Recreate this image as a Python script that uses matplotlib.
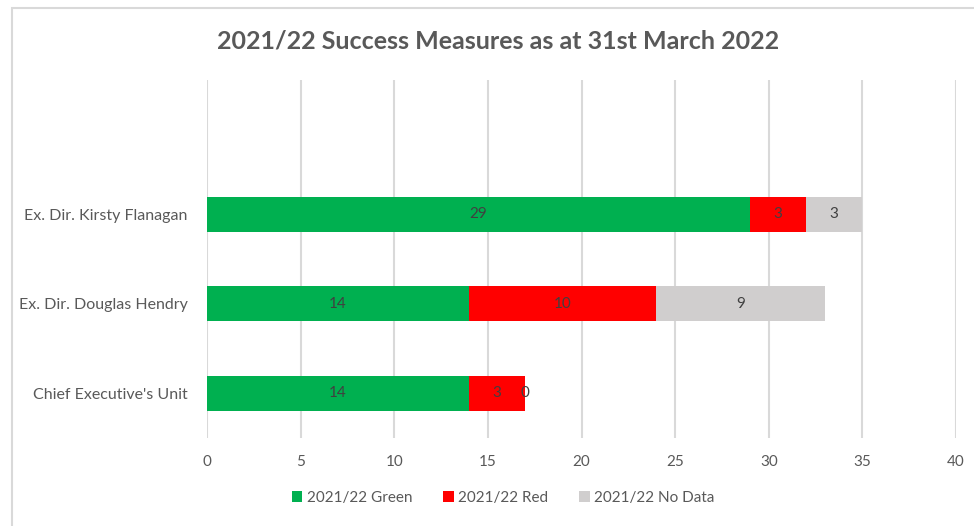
import matplotlib.pyplot as plt
from matplotlib.patches import Rectangle

plt.rcParams['font.family'] = ['Lato', 'DejaVu Sans']

categories = ["Chief Executive's Unit", "Ex. Dir. Douglas Hendry", "Ex. Dir. Kirsty Flanagan"]
green = [14, 14, 29]
red = [3, 10, 3]
nodata = [0, 9, 3]
series_names = ["2021/22 Green", "2021/22 Red", "2021/22 No Data"]
colors = ["#00b050", "#ff0000", "#d0cece"]

fig = plt.figure(figsize=(9.74, 5.26), dpi=100)
ax = fig.add_axes([207 / 974, 1 - 438 / 526, (956 - 207) / 974, (438 - 80) / 526])

# outer chart border (only top/left edges visible in reference)
fig.patches.append(Rectangle((12 / 974, -0.1), 1.2, 1.1 - 8 / 526, transform=fig.transFigure,
                             fill=False, edgecolor="#d9d9d9", linewidth=1.5))

ypos = list(range(len(categories)))
left = [0] * len(categories)
for vals, name, col in zip([green, red, nodata], series_names, colors):
    bars = ax.barh(ypos, vals, left=left, height=0.39, color=col, label=name, zorder=3)
    for b, v in zip(bars, vals):
        ax.text(b.get_x() + b.get_width() / 2, b.get_y() + b.get_height() / 2, str(v),
                ha="center", va="center", fontsize=11, color="#404040", zorder=4)
    left = [l + v for l, v in zip(left, vals)]

ax.set_xlim(0, 40)
ax.set_ylim(-0.5, 3.5)
ax.set_xticks(range(0, 41, 5))
ax.set_yticks(ypos)
ax.set_yticklabels(categories)
ax.grid(axis="x", color="#d9d9d9", linewidth=1.5, zorder=0)
for s in ax.spines.values():
    s.set_visible(False)
ax.tick_params(axis="y", length=0, pad=14, labelsize=11.5, labelcolor="#595959")
ax.tick_params(axis="x", length=0, pad=12, labelsize=11, labelcolor="#595959")

fig.text(498 / 974, 1 - 41 / 526, "2021/22 Success Measures as at 31st March 2022",
         ha="center", va="center", fontsize=18, fontweight="bold", color="#595959")

fig.legend(loc="center", bbox_to_anchor=(503 / 974, 1 - 498 / 526), ncol=3, frameon=False,
           fontsize=11, labelcolor="#595959", handlelength=0.7, handleheight=0.7,
           handletextpad=0.3, columnspacing=2.0)

fig.savefig("out.png", dpi=100)
